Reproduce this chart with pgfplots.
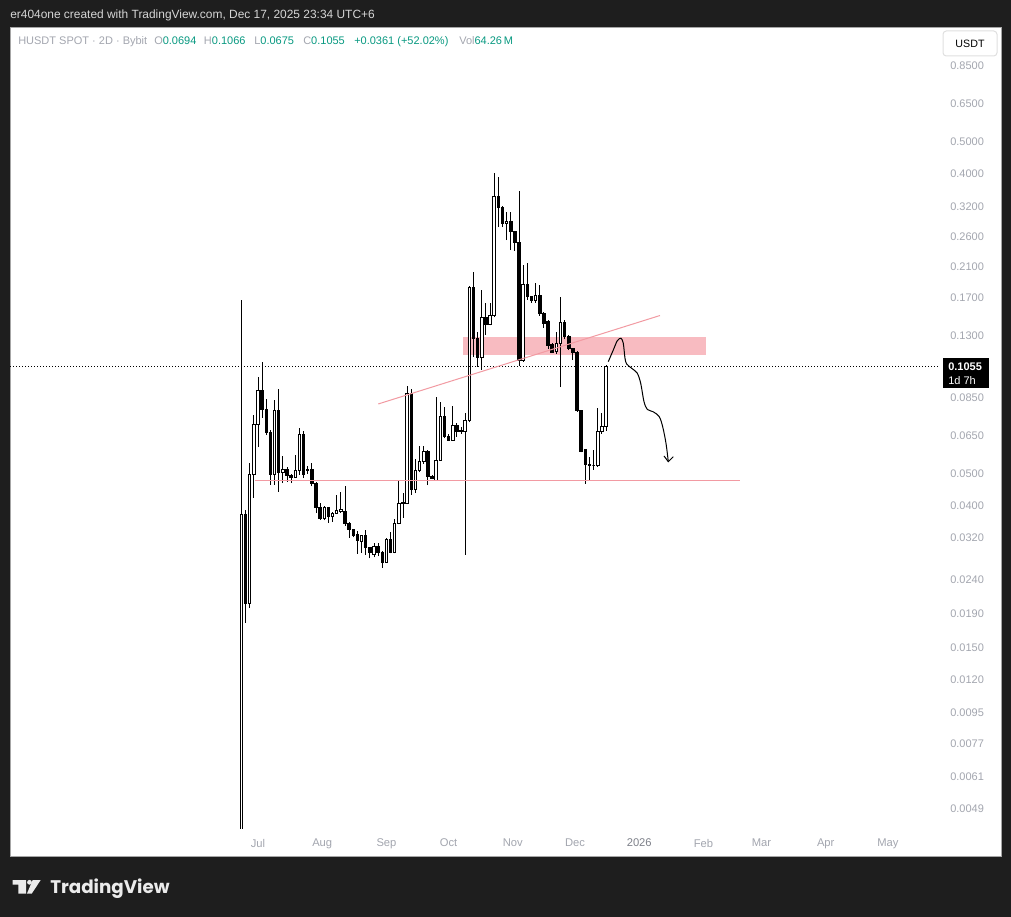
\documentclass[border=0pt]{standalone}
\usepackage{fontspec}
\setmainfont{Liberation Sans}
\newfontfamily\logofont{Poppins}
\usepackage{pgfplots}
\usepackage{pgfplotstable}
\pgfplotsset{compat=1.18}
\definecolor{bgdark}{HTML}{1E1E1E}
\definecolor{zone}{HTML}{F8BBC1}
\definecolor{trend}{HTML}{F29AA2}
\definecolor{lblgray}{HTML}{A3A6AF}
\definecolor{tealv}{HTML}{089981}
\definecolor{hdr}{HTML}{D6D6D6}
\definecolor{yeargray}{HTML}{7E818A}

\pgfplotstableread{
d o h l c
-8 0.0042 0.167 0.0040 0.0376
-6 0.0376 0.0389 0.0178 0.0204
-4 0.0204 0.0539 0.0197 0.0496
-2 0.0496 0.0752 0.0423 0.0706
0 0.0706 0.0979 0.0602 0.0894
2 0.0894 0.1086 0.0737 0.0784
4 0.0784 0.0840 0.0654 0.0668
6 0.0668 0.0680 0.0463 0.0496
8 0.0496 0.0835 0.0463 0.0778
10 0.0778 0.0901 0.0441 0.0503
12 0.0503 0.0566 0.0469 0.0514
14 0.0514 0.0524 0.0473 0.0493
16 0.0493 0.0500 0.0469 0.0489
18 0.0489 0.0569 0.0487 0.0510
20 0.0510 0.0687 0.0496 0.0659
22 0.0659 0.0672 0.0485 0.0496
24 0.0510 0.0529 0.0500 0.0514
26 0.0514 0.0539 0.0458 0.0469
28 0.0469 0.0472 0.0381 0.0397
30 0.0397 0.0408 0.0363 0.0366
32 0.0366 0.0400 0.0362 0.0395
34 0.0395 0.0397 0.0356 0.0371
36 0.0371 0.0383 0.0359 0.0381
38 0.0381 0.0432 0.0378 0.0389
40 0.0385 0.0440 0.0382 0.0390
42 0.0386 0.0458 0.0349 0.0354
44 0.0354 0.0359 0.0321 0.0339
46 0.0339 0.0341 0.0322 0.0326
48 0.0328 0.0337 0.0287 0.0314
50 0.0313 0.0327 0.0289 0.0325
52 0.0325 0.0339 0.0285 0.0299
54 0.0299 0.0301 0.0278 0.0289
56 0.0286 0.0310 0.0280 0.0303
58 0.0303 0.0310 0.0282 0.0289
60 0.0290 0.0292 0.0261 0.0271
62 0.0271 0.0320 0.0269 0.0318
64 0.0318 0.0334 0.0288 0.0290
66 0.0290 0.0366 0.0288 0.0354
68 0.0354 0.0479 0.0352 0.0408
70 0.0408 0.0437 0.0369 0.0410
72 0.0408 0.0922 0.0405 0.0876
74 0.0876 0.0900 0.0432 0.0447
76 0.0447 0.0553 0.0437 0.0510
78 0.0510 0.0606 0.0505 0.0545
80 0.0545 0.0606 0.0536 0.0584
82 0.0584 0.0590 0.0462 0.0491
84 0.0491 0.0495 0.0482 0.0485
86 0.0479 0.0851 0.0476 0.0550
88 0.0550 0.0822 0.0548 0.0742
90 0.0742 0.0797 0.0640 0.0646
92 0.0646 0.0660 0.0628 0.0632
94 0.0632 0.0801 0.0628 0.0700
96 0.0700 0.0710 0.0646 0.0670
98 0.0670 0.0690 0.0660 0.0675
100 0.0670 0.0760 0.0285 0.0722
102 0.0722 0.1841 0.0715 0.1816
104 0.1816 0.2029 0.1124 0.1283
106 0.1283 0.1336 0.1050 0.1124
108 0.1124 0.1788 0.1030 0.1484
110 0.1484 0.1641 0.1309 0.1405
112 0.1405 0.1640 0.1400 0.1497
114 0.1497 0.4023 0.1480 0.3437
116 0.3437 0.3920 0.2772 0.3185
118 0.3185 0.3200 0.2770 0.2850
120 0.2850 0.3076 0.2533 0.2889
122 0.2889 0.3076 0.2363 0.2695
124 0.2695 0.2700 0.2350 0.2498
126 0.2498 0.3566 0.1057 0.1101
128 0.1101 0.2130 0.1090 0.1866
130 0.1866 0.2159 0.1673 0.1706
132 0.1706 0.1720 0.1641 0.1667
134 0.1667 0.1883 0.1640 0.1727
136 0.1727 0.1857 0.1500 0.1526
138 0.1526 0.1540 0.1380 0.1424
140 0.1434 0.1450 0.1190 0.1222
142 0.1230 0.1240 0.1160 0.1164
144 0.1170 0.1338 0.1150 0.1239
146 0.1239 0.1700 0.0913 0.1432
148 0.1432 0.1450 0.1270 0.1294
150 0.1294 0.1310 0.1180 0.1197
152 0.1197 0.1200 0.1101 0.1160
154 0.1162 0.1170 0.0770 0.0778
156 0.0778 0.0780 0.0580 0.0584
158 0.0590 0.0595 0.0466 0.0532
160 0.0533 0.0560 0.0479 0.0530
162 0.0530 0.0590 0.0515 0.0530
164 0.0530 0.0789 0.0525 0.0670
166 0.0670 0.0760 0.0660 0.0694
168 0.0694 0.1066 0.0675 0.1055
}\candles
\pgfplotstablegetrowsof{\candles}
\pgfmathtruncatemacro{\lastrow}{\pgfplotsretval-1}

\begin{document}
\begin{tikzpicture}
\begin{scope}[x=0.75pt,y=-0.75pt]
\fill[bgdark] (0,0) rectangle (1011,917);
\fill[white] (10,28) rectangle (1001,856);
\draw[black!35, line width=0.75pt] (10,28) rectangle (1001,856);
\end{scope}
\begin{axis}[
  at={(7.5pt,-621pt)}, anchor=south west,
  scale only axis, width=697.5pt, height=600pt,
  ymode=log,
  xmin=-119.69, xmax=329.15, ymin=0.004281, ymax=1.1029,
  axis line style={draw=none},
  major tick length=0pt, minor tick length=0pt,
  ytick={0.0049,0.0061,0.0077,0.0095,0.012,0.015,0.019,0.024,0.032,0.04,0.05,0.065,0.085,0.13,0.17,0.21,0.26,0.32,0.4,0.5,0.65,0.85},
  yticklabels={0.0049,0.0061,0.0077,0.0095,0.0120,0.0150,0.0190,0.0240,0.0320,0.0400,0.0500,0.0650,0.0850,0.1300,0.1700,0.2100,0.2600,0.3200,0.4000,0.5000,0.6500,0.8500},
  yticklabel pos=right,
  yticklabel style={font=\fontsize{8.25}{10}\selectfont, text=lblgray, anchor=west, inner sep=0pt, xshift=7.5pt},
  xtick={0,31,62,92,123,153,184,215,243,274,304},
  xticklabels={Jul,Aug,Sep,Oct,Nov,Dec,{\textcolor{yeargray}{2026}},Feb,Mar,Apr,May},
  xticklabel style={font=\fontsize{8.4}{10}\selectfont, text=lblgray, anchor=north, inner sep=0pt, yshift=-8pt},
]
% supply zone
\addplot[fill=zone, draw=none, forget plot] coordinates {(98.9,0.1140) (216.2,0.1140) (216.2,0.1292) (98.9,0.1292)} -- cycle;
% candles
\pgfplotsforeachungrouped \i in {0,...,\lastrow}{%
  \pgfplotstablegetelem{\i}{d}\of\candles \edef\cd{\pgfplotsretval}%
  \pgfplotstablegetelem{\i}{o}\of\candles \edef\co{\pgfplotsretval}%
  \pgfplotstablegetelem{\i}{h}\of\candles \edef\ch{\pgfplotsretval}%
  \pgfplotstablegetelem{\i}{l}\of\candles \edef\cl{\pgfplotsretval}%
  \pgfplotstablegetelem{\i}{c}\of\candles \edef\cc{\pgfplotsretval}%
  \pgfmathsetmacro\xl{\cd-0.6}%
  \pgfmathsetmacro\xr{\cd+0.6}%
  \pgfmathtruncatemacro\isdown{\cc<\co}%
  \ifnum\isdown=1 \def\cf{black}\else\def\cf{white}\fi
  \edef\temp{\noexpand\addplot[black, line width=0.75pt, forget plot] coordinates {(\cd,\cl) (\cd,\ch)};
    \noexpand\addplot[draw=black, fill=\cf, line width=0.75pt, forget plot] coordinates {(\xl,\co) (\xr,\co) (\xr,\cc) (\xl,\cc)} -- cycle;}%
  \temp
}
% last price line
\addplot[black, line width=0.75pt, dash pattern=on 0.75pt off 1.5pt, forget plot] coordinates {(-119.69,0.1055) (329.15,0.1055)};
% support line
\addplot[trend, line width=0.75pt, forget plot] coordinates {(-1.45,0.0479) (232.6,0.0479)};
% trend line
\addplot[trend, line width=0.75pt, forget plot] coordinates {(58.06,0.0812) (194.0,0.1500)};
% projected path
\addplot[black, line width=0.75pt, smooth, forget plot] coordinates {
(169.06,0.1089) (171.48,0.1181) (173.41,0.1259) (175.19,0.1281) (176.30,0.1237)
(177.12,0.1115) (177.95,0.1071) (180.36,0.1040) (183.06,0.1005) (184.70,0.0937)
(186.29,0.0825) (187.89,0.0782) (190.78,0.0769) (193.68,0.0743) (195.32,0.0693)
(196.91,0.0618) (198.02,0.0544)};
\addplot[black, line width=0.75pt, forget plot] coordinates {(195.95,0.0566) (198.02,0.0544) (200.43,0.0563)};
\end{axis}
\begin{scope}[x=0.75pt,y=-0.75pt]
% header
\node[anchor=base west, inner sep=0pt, text=hdr, font=\fontsize{8.95}{10}\selectfont] at (10,19) {er404one created with TradingView.com, Dec 17, 2025 23:34 UTC+6};
% legend
\begin{scope}[every node/.style={anchor=base west, inner sep=0pt, font=\fontsize{8.25}{10}\selectfont, text=lblgray}]
\node at (18,45) {HUSDT SPOT · 2D · Bybit};
\node at (154,45) {O\textcolor{tealv}{0.0694}};
\node at (203.7,45) {H\textcolor{tealv}{0.1066}};
\node at (254,45) {L\textcolor{tealv}{0.0675}};
\node at (303,45) {C\textcolor{tealv}{0.1055}};
\node[text=tealv] at (354,45) {+0.0361 (+52.02\%)};
\node at (459,45) {Vol\textcolor{tealv}{64.26\,M}};
\end{scope}
% USDT button
\draw[draw=black!12, fill=white, rounded corners=2.5pt, line width=0.75pt] (943,31) rectangle (997,56);
\node[text=black, font=\fontsize{8}{10}\selectfont, inner sep=0pt] at (970,44) {USDT};
% price box
\fill[black] (943,358) rectangle (989,388);
\node[anchor=base west, text=white, inner sep=0pt, font=\bfseries\fontsize{8.25}{10}\selectfont] at (948,370) {0.1055};
\node[anchor=base west, text=white, inner sep=0pt, font=\fontsize{8.25}{10}\selectfont] at (948,384) {1d 7h};
% logo
\fill[white!92!black] (12.7,880) -- (26,880) -- (26,893.7) -- (18.3,893.7) -- (18.3,884.7) -- (12.7,884.7) -- cycle;
\fill[white!92!black] (29.5,882.3) circle (2.4);
\fill[white!92!black] (32.7,880) -- (40.7,880) -- (31.7,893.7) -- (26.9,893.7) -- cycle;
\node[anchor=base west, inner sep=0pt, text=white!92!black, font=\logofont\bfseries\fontsize{13.7}{16}\selectfont] at (50,893.7) {TradingView};
\end{scope}
\end{tikzpicture}
\end{document}
